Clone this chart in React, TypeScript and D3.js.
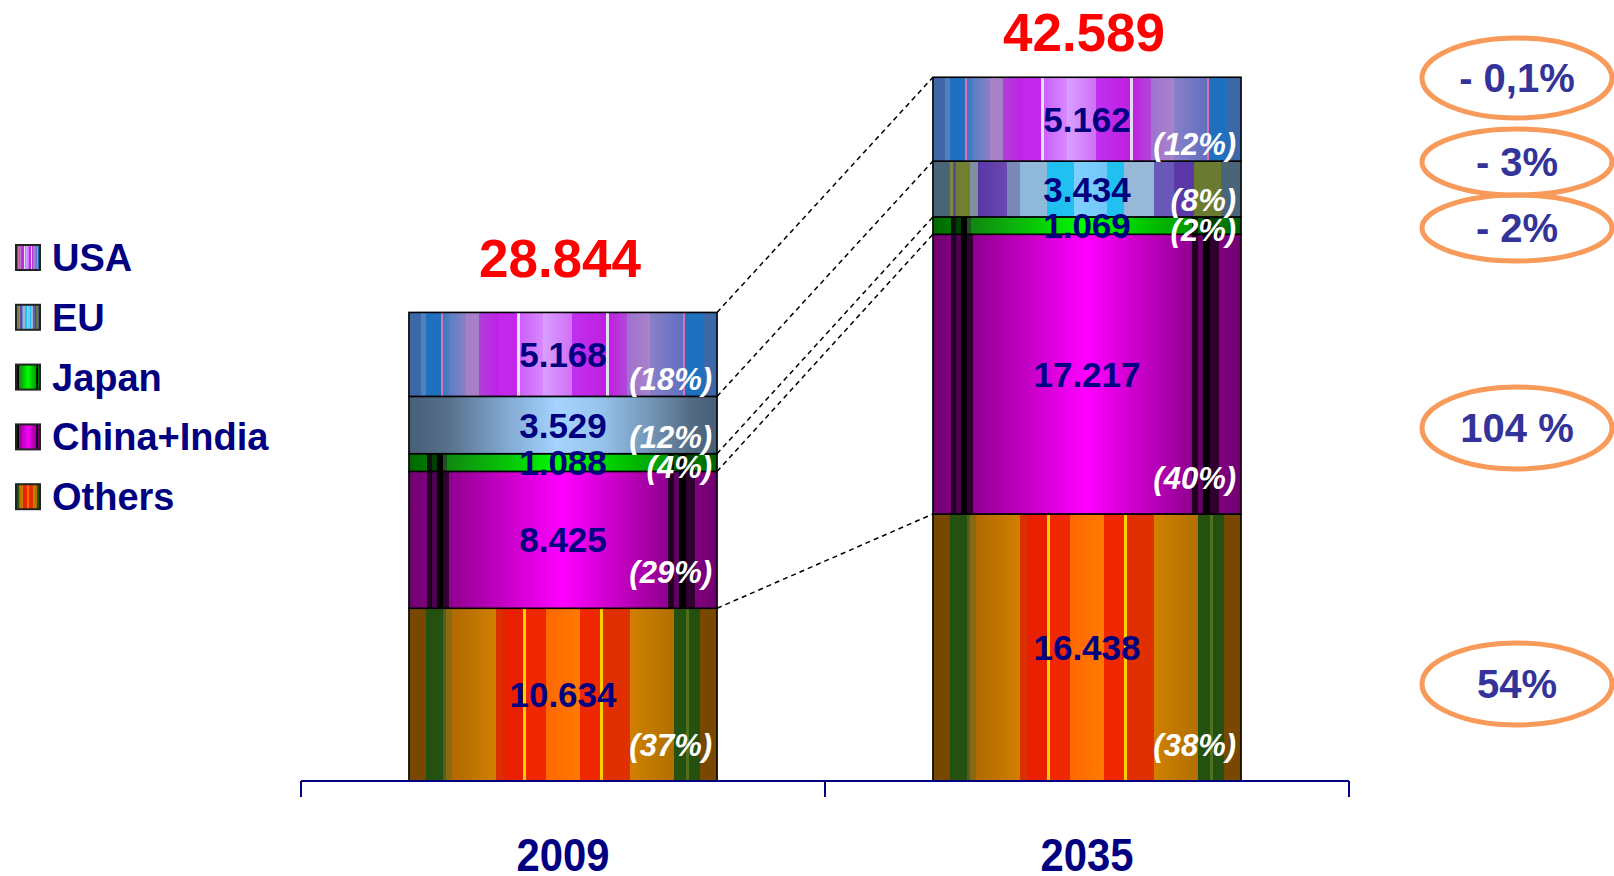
import React from 'react';
import * as d3 from 'd3';

// ---------- DATA ----------
const years = ['2009', '2035'];
const categories = ['USA', 'EU', 'Japan', 'China+India', 'Others'];
const usaValues = [5.168, 5.162];
const euValues = [3.529, 3.434];
const japanValues = [1.088, 1.069];
const chinaIndiaValues = [8.425, 17.217];
const othersValues = [10.634, 16.438];
const usaShares = ['(18%)', '(12%)'];
const euShares = ['(12%)', '(8%)'];
const japanShares = ['(4%)', '(2%)'];
const chinaIndiaShares = ['(29%)', '(40%)'];
const othersShares = ['(37%)', '(38%)'];
const totalLabels = ['28.844', '42.589'];
const changeLabels = ['- 0,1%', '- 3%', '- 2%', '104 %', '54%'];

// ---------- STYLE ----------
const FONT = '"Liberation Sans", Arial, sans-serif';
const NAVY = '#000080';
const W = 1614;
const H = 876;

type Stop = [number, string];
const S = (arr: Array<[number, number, string, string?]>): Stop[] => {
  const out: Stop[] = [];
  arr.forEach(([a, b, c1, c2]) => {
    out.push([a, c1]);
    out.push([b, c2 || c1]);
  });
  return out;
};

const GRADS: Record<string, Stop[]> = {
  usa: S([
    [0, 0.038, '#3c68a8'], [0.038, 0.054, '#4f80c0'], [0.054, 0.104, '#2070c0'],
    [0.104, 0.11, '#e070b0'], [0.11, 0.13, '#3a7bc0', '#4a7cc2'], [0.13, 0.185, '#5a7ec4', '#8a80c8'],
    [0.185, 0.228, '#a880c8'], [0.228, 0.293, '#b040d8', '#c020e8'], [0.293, 0.351, '#c428ea'],
    [0.351, 0.36, '#e4e0f4'], [0.36, 0.435, '#cc60f8', '#d888ff'], [0.435, 0.53, '#d8a0ff', '#d070f8'],
    [0.53, 0.639, '#c030f0', '#c020e0'], [0.639, 0.648, '#e4e0f4'], [0.648, 0.707, '#c020e0', '#b048d8'],
    [0.707, 0.783, '#a070d0', '#a884c8'], [0.783, 0.889, '#8a80c8', '#6070c0'], [0.889, 0.897, '#e070b0'],
    [0.897, 0.957, '#2070c0'], [0.957, 1, '#3c68a8'],
  ]),
  euSmooth: [
    [0, '#46607a'], [0.12, '#566e88'], [0.3, '#7ea4cc'], [0.48, '#a4d4ff'], [0.62, '#98c4ec'],
    [0.8, '#7090b0'], [0.92, '#526a82'], [1, '#46607a'],
  ],
  euStriped: S([
    [0, 0.054, '#4a6478'], [0.054, 0.065, '#7a8a40'], [0.065, 0.076, '#5a4aa0'], [0.076, 0.12, '#708030'],
    [0.12, 0.147, '#8090a0'], [0.147, 0.24, '#5838a8', '#6a48b0'], [0.24, 0.283, '#7a8ab8'],
    [0.283, 0.37, '#90b8d8'], [0.37, 0.457, '#20c0f0'], [0.457, 0.565, '#80d0ff', '#70c8f8'],
    [0.565, 0.62, '#20c0f0'], [0.62, 0.717, '#98b8d8'], [0.717, 0.783, '#6858b8'], [0.783, 0.848, '#5a38a8'],
    [0.848, 0.935, '#6a7a30'], [0.935, 1, '#4a6478'],
  ]),
  japan: S([
    [0, 0.06, '#006800', '#007a00'], [0.06, 0.075, '#101010'], [0.075, 0.09, '#004000'], [0.09, 0.11, '#000000'],
    [0.11, 0.125, '#205020'], [0.125, 0.5, '#108810', '#00ff00'], [0.5, 0.84, '#00ff00', '#009800'],
    [0.84, 0.86, '#002000'], [0.86, 0.875, '#006000'], [0.875, 0.9, '#000000'], [0.9, 0.93, '#004000'],
    [0.93, 1, '#008000', '#006000'],
  ]),
  china: S([
    [0, 0.06, '#700070', '#800080'], [0.06, 0.075, '#200020'], [0.075, 0.09, '#500050'], [0.09, 0.11, '#000000'],
    [0.11, 0.13, '#300030'], [0.13, 0.5, '#900090', '#ff00ff'], [0.5, 0.84, '#ff00ff', '#900090'],
    [0.84, 0.86, '#200020'], [0.86, 0.875, '#600060'], [0.875, 0.9, '#000000'], [0.9, 0.93, '#300030'],
    [0.93, 1, '#800080', '#700070'],
  ]),
  others: S([
    [0, 0.054, '#784800'], [0.054, 0.109, '#245010'], [0.109, 0.12, '#506020'], [0.12, 0.141, '#8a6a10'],
    [0.141, 0.283, '#b06a00', '#d08000'], [0.283, 0.304, '#d83000'], [0.304, 0.37, '#e82000'],
    [0.37, 0.38, '#ffd000'], [0.38, 0.446, '#f02800'], [0.446, 0.554, '#ff6800', '#ff7a00'],
    [0.554, 0.62, '#f02800'], [0.62, 0.63, '#ffd000'], [0.63, 0.717, '#e03000'],
    [0.717, 0.859, '#d08000', '#b07000'], [0.859, 0.9, '#245010'], [0.9, 0.91, '#507020'],
    [0.91, 0.946, '#245010'], [0.946, 1, '#784800'],
  ]),
};

const fills: Record<string, string[]> = {
  USA: ['usa', 'usa'],
  EU: ['euSmooth', 'euStriped'],
  Japan: ['japan', 'japan'],
  'China+India': ['china', 'china'],
  Others: ['others', 'others'],
};
const legendFill: Record<string, string> = {
  USA: 'usa', EU: 'euStriped', Japan: 'japan', 'China+India': 'china', Others: 'others',
};

const TOTAL_GAP = [35, 26];
const ELLIPSE_CX = 1517;
const ELLIPSE_Y = [78, 162, 228, 428, 684];
const ELLIPSE_RY = [40, 33, 33, 41, 41];

export default function App() {
  const valuesByCat: Record<string, number[]> = {
    USA: usaValues, EU: euValues, Japan: japanValues, 'China+India': chinaIndiaValues, Others: othersValues,
  };
  const sharesByCat: Record<string, string[]> = {
    USA: usaShares, EU: euShares, Japan: japanShares, 'China+India': chinaIndiaShares, Others: othersShares,
  };
  const stackOrder = ['Others', 'China+India', 'Japan', 'EU', 'USA'];

  const table = years.map((yr, i) => {
    const row: any = { year: yr };
    categories.forEach((c) => (row[c] = valuesByCat[c][i]));
    return row;
  });
  const series = d3.stack<any>().keys(stackOrder)(table);

  const x = d3.scaleBand<string>().domain(years).range([301, 1349]).padding(0);
  const barW = x.bandwidth() * 0.588;
  const y = d3.scaleLinear().domain([0, 45]).range([781, 781 - 45 * 16.245]);

  const barLeft = (i: number) => (x(years[i]) as number) + (x.bandwidth() - barW) / 2;
  const barCenter = (i: number) => (x(years[i]) as number) + x.bandwidth() / 2;

  const boundaries = series.map((s) => [s[0][1], s[1][1]]);

  return (
    <svg width={W} height={H} style={{ position: 'absolute', left: 0, top: 0, background: '#fff' }}
      fontFamily={FONT}>
      <defs>
        {Object.entries(GRADS).map(([id, stops]) => (
          <linearGradient key={id} id={`g-${id}`} x1="0" x2="1" y1="0" y2="0">
            {stops.map((s, k) => (
              <stop key={k} offset={s[0]} stopColor={s[1]} />
            ))}
          </linearGradient>
        ))}
      </defs>

      {series.map((s) =>
        s.map((d, i) => {
          const cat = s.key as string;
          const y0 = y(d[0]);
          const y1 = y(d[1]);
          return (
            <rect key={cat + i} x={barLeft(i)} y={y1} width={barW} height={y0 - y1}
              fill={`url(#g-${fills[cat][i]})`} stroke="#000" strokeWidth={1.6} />
          );
        })
      )}

      {boundaries.map((b, k) => (
        <line key={k} x1={barLeft(0) + barW} y1={y(b[0])} x2={barLeft(1)} y2={y(b[1])}
          stroke="#000" strokeWidth={1.5} strokeDasharray="5,4" />
      ))}

      {series.map((s) =>
        s.map((d, i) => {
          const cat = s.key as string;
          const yc = (y(d[0]) + y(d[1])) / 2;
          return (
            <text key={'v' + cat + i} x={barCenter(i)} y={yc + 12.5} textAnchor="middle"
              fontSize={35} fontWeight="bold" fill={NAVY}>
              {valuesByCat[cat][i].toFixed(3)}
            </text>
          );
        })
      )}

      {series.map((s) =>
        s.map((d, i) => {
          const cat = s.key as string;
          const bottom = y(d[0]);
          const h = bottom - y(d[1]);
          const off = h > 120 ? 25 : h > 40 ? 6 : -7;
          return (
            <text key={'p' + cat + i} x={barLeft(i) + barW - 5} y={bottom - off} textAnchor="end"
              fontSize={31} fontWeight="bold" fontStyle="italic" fill="#fff">
              {sharesByCat[cat][i]}
            </text>
          );
        })
      )}

      {totalLabels.map((t, i) => (
        <text key={'t' + i} x={barCenter(i) - 3} y={y(series[series.length - 1][i][1]) - TOTAL_GAP[i]}
          textAnchor="middle" fontSize={53} fontWeight="bold" fill="#ff0000">
          {t}
        </text>
      ))}

      <line x1={301} x2={1349} y1={781} y2={781} stroke={NAVY} strokeWidth={2} />
      {[...years.map((yr) => x(yr) as number), 1349].map((tx, k) => (
        <line key={'tk' + k} x1={tx} x2={tx} y1={781} y2={797} stroke={NAVY} strokeWidth={2} />
      ))}
      {years.map((yr, i) => (
        <text key={'yr' + yr} x={barCenter(i)} y={871} textAnchor="middle" fontSize={47}
          textLength={93} lengthAdjust="spacingAndGlyphs" fontWeight="bold" fill={NAVY}>
          {yr}
        </text>
      ))}

      {categories.map((c, k) => {
        const cy = 257.5 + k * 59.8;
        return (
          <g key={'lg' + c}>
            <rect x={16} y={cy - 12.5} width={24} height={25} fill={`url(#g-${legendFill[c]})`}
              stroke="#222" strokeWidth={2} />
            <text x={52} y={cy + 13.5} fontSize={38} fontWeight="bold" fill={NAVY}>
              {c}
            </text>
          </g>
        );
      })}

      {changeLabels.map((t, k) => (
        <g key={'el' + k}>
          <ellipse cx={ELLIPSE_CX} cy={ELLIPSE_Y[k]} rx={95} ry={ELLIPSE_RY[k]} fill="none"
            stroke="#f79a5a" strokeWidth={5} />
          <text x={ELLIPSE_CX} y={ELLIPSE_Y[k] + 14} textAnchor="middle" fontSize={40}
            fontWeight="bold" fill="#333399">
            {t}
          </text>
        </g>
      ))}
    </svg>
  );
}
